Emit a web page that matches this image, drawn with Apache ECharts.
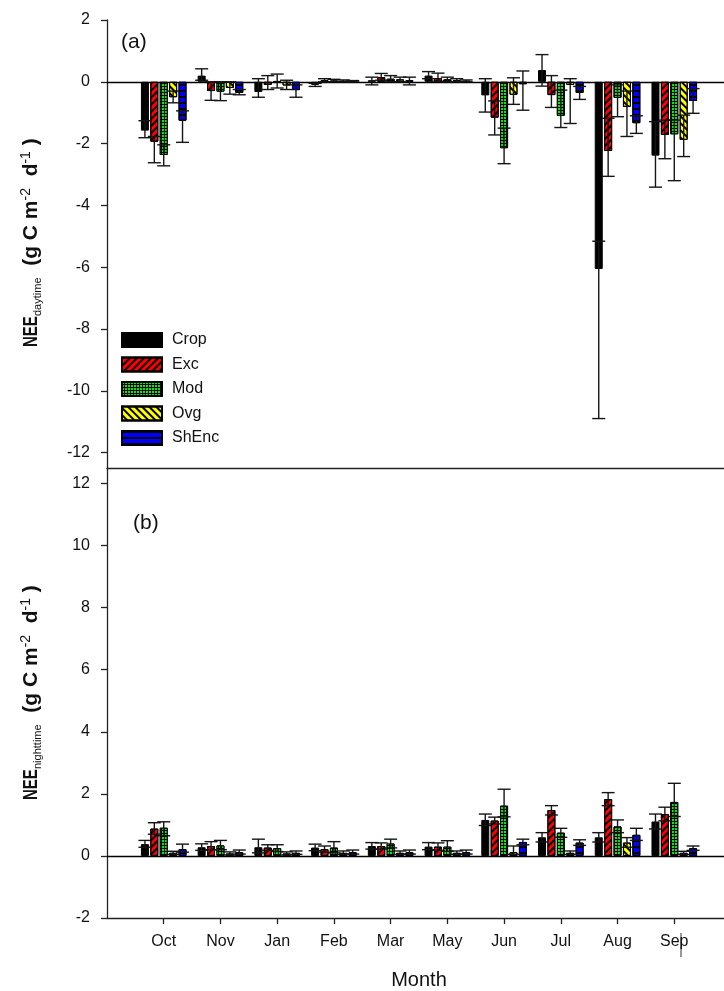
<!DOCTYPE html>
<html>
<head>
<meta charset="utf-8">
<script src="https://cdn.jsdelivr.net/npm/echarts@6/dist/echarts.min.js"></script>
<style>
  html, body { margin: 0; padding: 0; background: #fff; }
  #chart { width: 724px; height: 991px; }
</style>
</head>
<body>
<div id="chart"></div>
<script>
// Months on the x axis (Dec and Apr have no measurements)
const months = ['Oct', 'Nov', 'Jan', 'Feb', 'Mar', 'May', 'Jun', 'Jul', 'Aug', 'Sep'];
const treatments = ['Crop', 'Exc', 'Mod', 'Ovg', 'ShEnc'];

// y-axis tick labels
const dayTicks = [-12, -10, -8, -6, -4, -2, 0, 2];
const nightTicks = [-2, 0, 2, 4, 6, 8, 10, 12];

// (a) daytime NEE: monthly means and error-bar ends (g C m-2 d-1)
const dayCrop    = [-1.58, 0.20, -0.33, -0.10, 0.05, 0.20, -0.44, 0.38, -6.06, -2.39];
const dayCropLo  = [-1.81, 0.05, -0.50, -0.15, -0.10, 0.10, -0.98, -0.14, -10.90, -3.41];
const dayCropHi  = [-1.26, 0.42, 0.10, -0.05, 0.15, 0.33, 0.10, 0.88, -5.16, -1.29];

const dayExc     = [-1.94, -0.30, -0.10, 0.05, 0.15, 0.12, -1.16, -0.43, -2.24, -1.72];
const dayExcLo   = [-2.62, -0.60, -0.25, 0.00, 0.05, 0.02, -1.72, -0.83, -3.06, -2.49];
const dayExcHi   = [-1.77, 0.00, 0.20, 0.10, 0.27, 0.28, -0.62, 0.20, -1.18, -1.24];

const dayMod     = [-2.37, -0.32, 0.02, 0.04, 0.10, 0.08, -2.15, -1.10, -0.52, -1.70];
const dayModLo   = [-2.72, -0.61, -0.20, 0.00, 0.00, 0.00, -2.65, -1.48, -1.13, -3.20];
const dayModHi   = [-2.04, 0.00, 0.25, 0.08, 0.20, 0.15, -1.50, -0.27, -0.10, -1.24];

const dayOvg     = [-0.50, -0.20, -0.12, 0.03, 0.08, 0.05, -0.42, -0.10, -0.81, -1.88];
const dayOvgLo   = [-0.68, -0.40, -0.25, 0.00, 0.00, 0.00, -0.73, -1.35, -1.77, -2.42];
const dayOvgHi   = [-0.30, 0.00, 0.05, 0.06, 0.15, 0.10, 0.13, 0.10, -0.30, -1.08];

const dayShEnc   = [-1.26, -0.36, -0.27, 0.02, 0.05, 0.03, -0.08, -0.36, -1.34, -0.62];
const dayShEncLo = [-1.96, -0.42, -0.50, 0.00, -0.10, 0.00, -0.92, -0.57, -1.67, -1.02];
const dayShEncHi = [-0.94, -0.25, -0.10, 0.04, 0.15, 0.06, 0.35, -0.15, -1.10, -0.22];

// (b) nighttime NEE
const nightCrop    = [0.38, 0.28, 0.28, 0.27, 0.32, 0.30, 1.16, 0.60, 0.60, 1.11];
const nightCropLo  = [0.28, 0.18, 0.10, 0.17, 0.22, 0.20, 0.98, 0.45, 0.45, 0.87];
const nightCropHi  = [0.50, 0.39, 0.54, 0.38, 0.43, 0.43, 1.35, 0.75, 0.75, 1.35];

const nightExc     = [0.88, 0.32, 0.27, 0.22, 0.32, 0.30, 1.14, 1.48, 1.83, 1.35];
const nightExcLo   = [0.70, 0.20, 0.18, 0.12, 0.22, 0.18, 1.03, 1.32, 1.62, 1.13];
const nightExcHi   = [1.07, 0.46, 0.36, 0.32, 0.42, 0.42, 1.25, 1.62, 2.04, 1.57];

const nightMod     = [0.91, 0.34, 0.25, 0.27, 0.40, 0.30, 1.62, 0.75, 0.95, 1.74];
const nightModLo   = [0.65, 0.20, 0.14, 0.10, 0.26, 0.15, 1.26, 0.60, 0.75, 1.27];
const nightModHi   = [1.10, 0.50, 0.36, 0.46, 0.54, 0.49, 2.15, 0.89, 1.16, 2.34];

const nightOvg     = [0.10, 0.08, 0.08, 0.10, 0.10, 0.10, 0.12, 0.10, 0.43, 0.10];
const nightOvgLo   = [0.05, 0.03, 0.03, 0.05, 0.05, 0.05, 0.05, 0.05, 0.28, 0.05];
const nightOvgHi   = [0.15, 0.13, 0.13, 0.16, 0.16, 0.16, 0.32, 0.16, 0.59, 0.15];

const nightShEnc   = [0.22, 0.12, 0.10, 0.12, 0.12, 0.12, 0.45, 0.43, 0.68, 0.25];
const nightShEncLo = [0.12, 0.06, 0.05, 0.06, 0.06, 0.06, 0.36, 0.34, 0.50, 0.18];
const nightShEncHi = [0.38, 0.19, 0.16, 0.19, 0.19, 0.19, 0.54, 0.52, 0.89, 0.32];

// ---- layout and styling ----
const FONT = 'Liberation Sans, Arial, sans-serif';
const BAR_W = 8;
const BAR_GAP = 0.175;                // fraction of bar width
const BAR_STEP = BAR_W * (1 + BAR_GAP);
const CAP_W = 13;
const INK = '#111';

// Category slots: an empty slot at each end gives the one-slot margins
const cats = [''].concat(months, ['']);

const barStyles = {
  Crop:  { color: '#000000' },
  Exc:   { color: '#ff0000', decal: { symbol: 'rect', symbolSize: 1, dashArrayX: [1, 0], dashArrayY: [1.3, 2.7], rotation: -Math.PI / 4, color: '#000' } },
  Mod:   { color: '#000000', decal: { symbol: 'rect', symbolSize: 1, dashArrayX: [2, 1], dashArrayY: [2, 1], color: '#00ee00' } },
  Ovg:   { color: '#ffff00', decal: { symbol: 'rect', symbolSize: 1, dashArrayX: [1, 0], dashArrayY: [1.3, 2.7], rotation: Math.PI / 4, color: '#000' } },
  ShEnc: { color: '#0000ff', decal: { symbol: 'rect', symbolSize: 1, dashArrayX: [1, 0], dashArrayY: [1.5, 3.5], color: '#000' } }
};

const dayMeans = { Crop: dayCrop, Exc: dayExc, Mod: dayMod, Ovg: dayOvg, ShEnc: dayShEnc };
const dayLo = { Crop: dayCropLo, Exc: dayExcLo, Mod: dayModLo, Ovg: dayOvgLo, ShEnc: dayShEncLo };
const dayHi = { Crop: dayCropHi, Exc: dayExcHi, Mod: dayModHi, Ovg: dayOvgHi, ShEnc: dayShEncHi };
const nightMeans = { Crop: nightCrop, Exc: nightExc, Mod: nightMod, Ovg: nightOvg, ShEnc: nightShEnc };
const nightLo = { Crop: nightCropLo, Exc: nightExcLo, Mod: nightModLo, Ovg: nightOvgLo, ShEnc: nightShEncLo };
const nightHi = { Crop: nightCropHi, Exc: nightExcHi, Mod: nightModHi, Ovg: nightOvgHi, ShEnc: nightShEncHi };

function renderErrorBar(params, api) {
  const c = api.value(0);
  const k = api.value(3);
  const pLo = api.coord([c, api.value(1)]);
  const pHi = api.coord([c, api.value(2)]);
  const x = pLo[0] + (k - 2) * BAR_STEP;
  const st = { stroke: '#151515', lineWidth: 1.4 };
  return {
    type: 'group',
    children: [
      { type: 'line', shape: { x1: x, y1: pLo[1], x2: x, y2: pHi[1] }, style: st },
      { type: 'line', shape: { x1: x - CAP_W / 2, y1: pLo[1], x2: x + CAP_W / 2, y2: pLo[1] }, style: st },
      { type: 'line', shape: { x1: x - CAP_W / 2, y1: pHi[1], x2: x + CAP_W / 2, y2: pHi[1] }, style: st }
    ]
  };
}

function panelSeries(axisIdx, means, lo, hi) {
  const out = [];
  treatments.forEach(function (t, k) {
    const s = {
      name: t,
      type: 'bar',
      xAxisIndex: axisIdx,
      yAxisIndex: axisIdx,
      barWidth: BAR_W,
      barGap: (BAR_GAP * 100) + '%',
      itemStyle: Object.assign({ borderColor: '#000', borderWidth: 1 }, barStyles[t]),
      data: means[t].map(function (v, i) { return [i + 1, v]; }),
      z: 2
    };
    if (k === 0) {
      // zero reference line across the panel
      s.markLine = {
        silent: true,
        symbol: ['none', 'none'],
        label: { show: false },
        lineStyle: { color: '#000', width: 1.3, type: 'solid' },
        data: [{ yAxis: 0 }],
        z: 1
      };
    }
    out.push(s);
  });
  const errData = [];
  treatments.forEach(function (t, k) {
    means[t].forEach(function (v, i) { errData.push([i + 1, lo[t][i], hi[t][i], k]); });
  });
  out.push({
    name: 'errors' + axisIdx,
    type: 'custom',
    xAxisIndex: axisIdx,
    yAxisIndex: axisIdx,
    renderItem: renderErrorBar,
    encode: { x: 0, y: [1, 2] },
    data: errData,
    z: 5
  });
  return out;
}

const axisLineStyle = { color: '#222', width: 1.3 };

function yAxisFor(gridIndex, min, max, ticks) {
  return {
    type: 'value',
    gridIndex: gridIndex,
    min: min,
    max: max,
    axisLine: { show: true, onZero: false, lineStyle: axisLineStyle },
    axisTick: { show: true, inside: false, length: 6, customValues: ticks, lineStyle: axisLineStyle },
    axisLabel: { show: true, customValues: ticks, margin: 17, fontSize: 16, color: INK, fontFamily: FONT },
    splitLine: { show: false }
  };
}

// Rotated y-axis title: a condensed "NEE" followed by the subscript and units
function axisTitle(sub, x, yBottom) {
  return {
    type: 'group',
    x: x,
    y: yBottom,
    rotation: Math.PI / 2,
    silent: true,
    children: [
      {
        type: 'text', x: 0, y: 0, scaleX: 0.75,
        style: { text: 'NEE', font: 'bold 20px ' + FONT, fill: INK, align: 'left', verticalAlign: 'middle' }
      },
      {
        type: 'text', x: 31, y: 0,
        style: {
          text: '{s|' + sub + '}{b|  (g C m}{p|-2}{b|  d}{p|-1}{b| )}',
          align: 'left',
          verticalAlign: 'middle',
          fill: INK,
          rich: {
            b: { fontSize: 21, fontWeight: 'bold', fontFamily: FONT, fill: INK, lineHeight: 24, verticalAlign: 'middle' },
            s: { fontSize: 11, fontFamily: FONT, fill: INK, lineHeight: 11, verticalAlign: 'bottom' },
            p: { fontSize: 14, fontFamily: FONT, fill: INK, lineHeight: 14, verticalAlign: 'top' }
          }
        }
      }
    ]
  };
}

const option = {
  animation: false,
  backgroundColor: '#fff',
  textStyle: { fontFamily: FONT },
  grid: [
    { left: 107, top: 20, width: 624, height: 448, outerBoundsMode: 'none', containLabel: false },
    { left: 107, top: 468, width: 624, height: 450, outerBoundsMode: 'none', containLabel: false }
  ],
  xAxis: [
    {
      type: 'category', gridIndex: 0, data: cats, boundaryGap: false, position: 'bottom',
      axisLine: { show: true, onZero: false, lineStyle: axisLineStyle },
      axisTick: { show: false }, axisLabel: { show: false }, splitLine: { show: false }
    },
    {
      type: 'category', gridIndex: 1, data: cats, boundaryGap: false, position: 'bottom',
      axisLine: { show: true, onZero: false, lineStyle: axisLineStyle },
      axisTick: {
        show: true, inside: false, length: 6, lineStyle: axisLineStyle,
        interval: function (index) { return index > 0 && index < cats.length - 1; }
      },
      axisLabel: { show: true, margin: 16, fontSize: 16, color: INK, fontFamily: FONT, interval: 0 },
      splitLine: { show: false },
      name: 'Month', nameLocation: 'middle', nameGap: 52,
      nameTextStyle: { fontSize: 20, color: INK, fontFamily: FONT }
    }
  ],
  yAxis: [
    yAxisFor(0, -12.5, 2, dayTicks),
    yAxisFor(1, -2, 12.5, nightTicks)
  ],
  legend: {
    data: treatments,
    orient: 'vertical',
    left: 121,
    top: 332,
    padding: 0,
    itemWidth: 40,
    itemHeight: 14,
    itemGap: 8.5,
    icon: 'rect',
    selectedMode: false,
    textStyle: { fontSize: 16, color: INK, fontFamily: FONT, lineHeight: 14, padding: [0, 0, 0, 5] }
  },
  graphic: [
    { type: 'text', x: 121, y: 32, silent: true, style: { text: '(a)', fontSize: 21, fontFamily: FONT, fill: INK } },
    { type: 'text', x: 133, y: 513, silent: true, style: { text: '(b)', fontSize: 21, fontFamily: FONT, fill: INK } },
    axisTitle('daytime', 31, 347),
    axisTitle('nighttime', 31, 800),
    // short stroke drawn through the Sep label
    { type: 'line', silent: true, shape: { x1: 681, y1: 933, x2: 681, y2: 957 }, style: { stroke: '#333', lineWidth: 1 } }
  ],
  series: panelSeries(0, dayMeans, dayLo, dayHi).concat(panelSeries(1, nightMeans, nightLo, nightHi))
};

const chart = echarts.init(document.getElementById('chart'));
chart.setOption(option);
</script>
</body>
</html>
